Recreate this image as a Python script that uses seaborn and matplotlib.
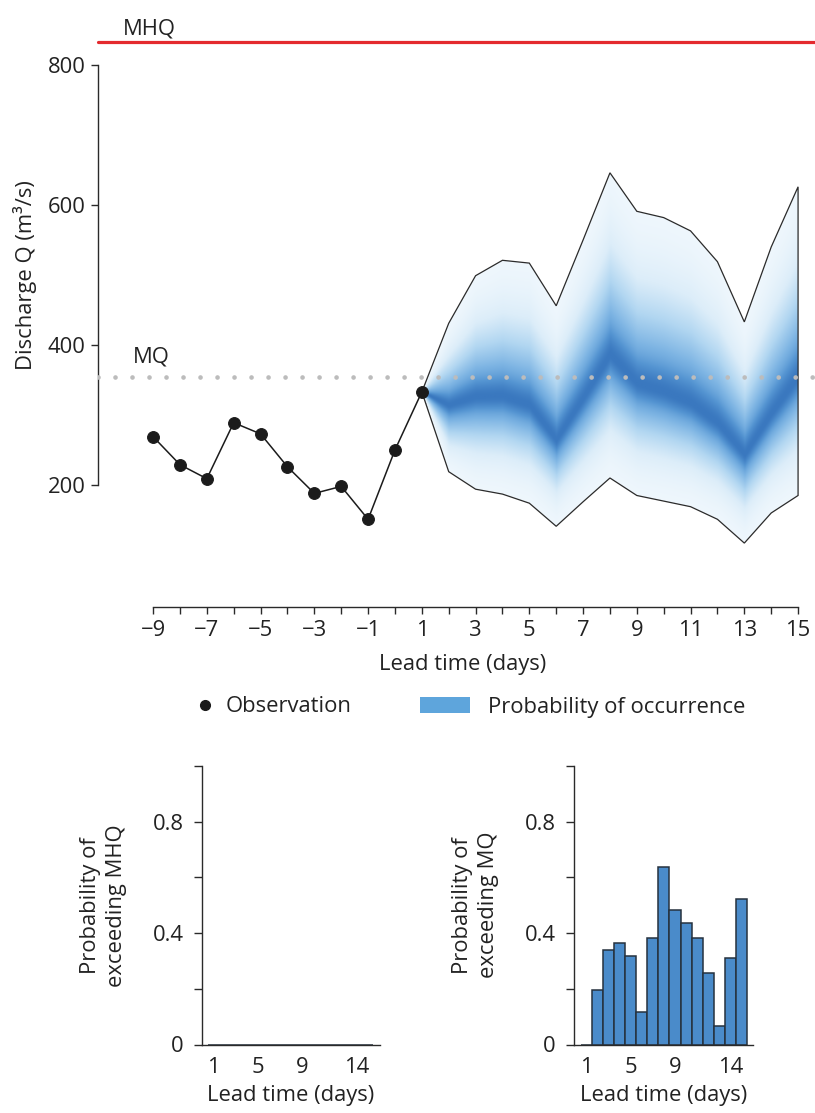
import numpy as np
import matplotlib
matplotlib.use("Agg")
import matplotlib.pyplot as plt
import seaborn as sns
from matplotlib.patches import Polygon, Patch
from matplotlib.lines import Line2D
from matplotlib.colors import LinearSegmentedColormap

# ---------------- data ----------------
obs_days = [-9, -8, -7, -6, -5, -4, -3, -2, -1, 0, 1]
obs_q = [269, 229, 209, 289, 273, 226, 188, 198, 151, 250, 333]

fc_days = [1, 2, 3, 4, 5, 6, 7, 8, 9, 10, 11, 12, 13, 14, 15]
fc_upper = [333, 431, 499, 521, 517, 456, 550, 646, 591, 582, 563, 519, 433, 540, 626]
fc_median = [333, 314, 326, 327, 314, 264, 324, 386, 345, 333, 317, 288, 243, 302, 355]
fc_lower = [333, 219, 194, 187, 174, 141, 176, 210, 185, 177, 169, 151, 117, 160, 185]

MHQ = 833
MQ = 354

prob_days = [1, 2, 3, 4, 5, 6, 7, 8, 9, 10, 11, 12, 13, 14, 15]
prob_mhq = [0, 0, 0, 0, 0, 0, 0, 0, 0, 0, 0, 0, 0, 0, 0]
prob_mq = [0.0, 0.197, 0.340, 0.366, 0.317, 0.117, 0.382, 0.639, 0.482,
           0.438, 0.381, 0.256, 0.066, 0.312, 0.521]

main_xticks = list(range(-9, 16))
main_xticklabels = [str(d).replace("-", "\u2212") if d % 2 != 0 else "" for d in main_xticks]
main_yticks = [200, 400, 600, 800]
prob_xticks = [1, 5, 9, 14]
prob_yticks = [0, 0.2, 0.4, 0.6, 0.8, 1.0]
prob_yticklabels = ["0", "", "0.4", "", "0.8", ""]

# ---------------- style ----------------
sns.set_theme(style="ticks")
plt.rcParams["font.family"] = ["Open Sans", "DejaVu Sans"]
FS = 15.8
DARK = "#2a2a2a"
plt.rcParams.update({
    "axes.edgecolor": DARK, "axes.linewidth": 1.0,
    "xtick.color": DARK, "ytick.color": DARK,
    "xtick.labelcolor": "#222222", "ytick.labelcolor": "#222222",
    "axes.labelcolor": "#222222", "text.color": "#222222",
    "font.size": FS, "xtick.labelsize": FS, "ytick.labelsize": FS,
    "axes.labelsize": FS,
})

W, H = 815, 1113
fig = plt.figure(figsize=(W / 100, H / 100), dpi=100)


def px_axes(l, t, r, b):
    return fig.add_axes([l / W, 1 - b / H, (r - l) / W, (b - t) / H])


# ---------------- main axes ----------------
ax = px_axes(98, 20, 815, 607)
ax.set_facecolor("none")

# probability gradient (clipped to envelope)
cmap = LinearSegmentedColormap.from_list(
    "prob", ["#f1f8fd", "#dcedf9", "#b1d6f1", "#7db4e3", "#5595d2", "#3a78bf"])
xg = np.linspace(fc_days[0], fc_days[-1], 900)
yg = np.linspace(100, 660, 700)
U = np.interp(xg, fc_days, fc_upper)[None, :]
M = np.interp(xg, fc_days, fc_median)[None, :]
L = np.interp(xg, fc_days, fc_lower)[None, :]
Y = yg[:, None]
t = np.where(Y >= M, (Y - M) / np.maximum(U - M, 1e-6),
             (M - Y) / np.maximum(M - L, 1e-6))
f = 0.3 * np.exp(-(t / 0.14) ** 2) + 0.7 * np.exp(-(t / 0.55) ** 2)
f = np.where(t > 1.05, np.nan, f)
im = ax.imshow(f, extent=[fc_days[0], fc_days[-1], 100, 660], origin="lower",
               aspect="auto", cmap=cmap, vmin=0, vmax=1,
               interpolation="bilinear", zorder=1)
verts = list(zip(fc_days, fc_upper)) + list(zip(fc_days[::-1], fc_lower[::-1]))
poly = Polygon(verts, closed=True, transform=ax.transData, facecolor="none",
               edgecolor="#2b2b2b", lw=0.9, zorder=2)
ax.add_patch(poly)
im.set_clip_path(poly)

# reference lines
ax.axhline(MHQ, color="#e42a2e", lw=2.3, zorder=3, clip_on=False)
ax.axhline(MQ, color="#bcbcbc", lw=3.4, ls=(0, (0.001, 3.6)),
           dash_capstyle="round", zorder=3)
ax.text(-10.12, 852, "MHQ", ha="left", va="center", fontsize=FS)
ax.text(-9.75, 383, "MQ", ha="left", va="center", fontsize=FS)

# observations
sns.lineplot(x=obs_days, y=obs_q, ax=ax, color="#1b1b1b", lw=1.1,
             marker="o", markersize=8.5, markeredgecolor="#1b1b1b",
             markerfacecolor="#1b1b1b", zorder=5)

ax.set_xlim(-11.05, 15.63)
ax.set_ylim(25.7, 864.3)
ax.set_xticks(main_xticks)
ax.set_xticklabels(main_xticklabels)
ax.set_yticks(main_yticks)
ax.tick_params(axis="both", length=5, width=1.0, pad=4)
sns.despine(ax=ax)
ax.spines["left"].set_bounds(200, 800)
ax.spines["bottom"].set_bounds(-9, 15)
ax.set_xlabel("Lead time (days)")
ax.xaxis.set_label_coords(0.508, -0.08)
ax.set_ylabel("Discharge Q (m\u00b3/s)")
ax.yaxis.set_label_coords(-0.085, 0.5656)

# ---------------- legend ----------------
fig.legend(handles=[Line2D([], [], marker="o", ls="none", color="#1b1b1b",
                           markersize=7)],
           labels=["Observation"], loc="center left",
           bbox_to_anchor=(194 / W, 1 - 707 / H), frameon=False,
           borderpad=0, borderaxespad=0, handlelength=1.0,
           handletextpad=0.45, fontsize=FS)
fig.legend(handles=[Patch(facecolor="#5ea5dc", edgecolor="none")],
           labels=["Probability of occurrence"], loc="center left",
           bbox_to_anchor=(420 / W, 1 - 707 / H), frameon=False,
           borderpad=0, borderaxespad=0, handlelength=2.3,
           handleheight=0.72, handletextpad=0.78, fontsize=FS)


# ---------------- probability panels ----------------
def prob_panel(rect, xlim, values, label):
    a = px_axes(*rect)
    a.set_facecolor("none")
    sns.barplot(x=prob_days, y=values, ax=a, native_scale=True, width=1,
                color="#4a8bca", saturation=1, edgecolor="#26323e",
                linewidth=1.1)
    a.set_xlim(*xlim)
    a.set_ylim(0, 1)
    a.set_xticks(prob_xticks)
    a.set_xticklabels([str(v) for v in prob_xticks])
    a.set_yticks(prob_yticks)
    a.set_yticklabels(prob_yticklabels)
    a.tick_params(axis="x", length=0, pad=9)
    a.tick_params(axis="y", length=6, width=1.0, pad=7)
    sns.despine(ax=a)
    a.set_xlabel("Lead time (days)")
    a.xaxis.set_label_coords(0.5, -0.145)
    a.set_ylabel(label, linespacing=1.3)
    a.yaxis.set_label_coords(-0.42, 0.5)
    return a


prob_panel((202, 766, 380, 1044.5), (-0.02, 16.09), prob_mhq,
           "Probability of\nexceeding MHQ")
prob_panel((574, 766, 753, 1044.5), (-0.1, 16.03), prob_mq,
           "Probability of\nexceeding MQ")

fig.savefig("out.png", dpi=100)
